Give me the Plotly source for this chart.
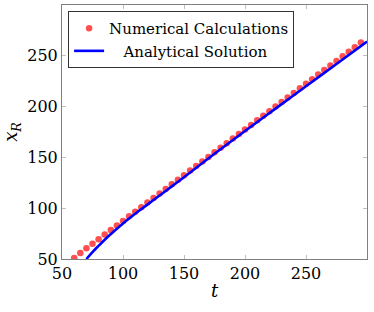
import plotly.graph_objects as go

t_num = list(range(60, 300, 5))
x_num = [51, 56, 60.5, 65, 69.5, 74, 78.5, 83, 87.5, 92, 96.5, 101, 105.5, 110,
         114.5, 119, 123.5, 128, 132.5, 137, 141.5, 146, 150.5, 155, 159.5, 164,
         168.5, 173, 177.5, 182, 186.5, 191, 195.5, 200, 204.5, 209, 213.5, 218,
         222.5, 227, 231.5, 236, 240.5, 245, 249.5, 254, 258.5, 263]

t_ana = [70, 75, 80, 85, 90, 100, 110, 120, 130, 140, 150, 175, 200, 225, 250, 275, 300]
x_ana = [50, 56.8, 63, 69, 74.5, 85, 94.5, 103.5, 112.5, 121.5, 130.5, 153.5, 176, 198, 220, 242, 264]

font = "DejaVu Serif"

fig = go.Figure()
fig.add_trace(go.Scatter(x=t_num, y=x_num, mode="markers", name="Numerical Calculations",
                         marker=dict(color="rgba(255,60,60,0.9)", size=6.5)))
fig.add_trace(go.Scatter(x=t_ana, y=x_ana, mode="lines",
                         name="\u00a0\u00a0\u00a0Analytical Solution",
                         line=dict(color="#0000ff", width=2.6, shape="spline")))

axis_common = dict(showgrid=False, zeroline=False, ticks="inside", ticklen=4,
                   tickcolor="#c0c0c0", showline=True, linecolor="#808080", linewidth=1,
                   mirror="ticks", automargin=False,
                   tickfont=dict(family=font, size=16, color="black"))

fig.update_layout(
    width=374, height=312,
    margin=dict(l=62, r=7, t=5, b=53),
    plot_bgcolor="white", paper_bgcolor="white",
    font=dict(family=font, size=16, color="black"),
    xaxis=dict(range=[50, 300], tickvals=[50, 100, 150, 200, 250],
               title=dict(text="<i>t</i>", standoff=2, font=dict(family=font, size=18)), **axis_common),
    yaxis=dict(range=[50, 300], tickvals=[50, 100, 150, 200, 250],
               title=dict(text="<i>x</i><sub><i>R</i></sub>", standoff=8, font=dict(family=font, size=18)),
               **axis_common),
    legend=dict(x=0.02, y=0.976, xanchor="left", yanchor="top",
                bordercolor="#333333", borderwidth=1, bgcolor="white",
                font=dict(family=font, size=15), itemwidth=30),
    showlegend=True,
)

fig.write_html("out.html", config={"displayModeBar": False},
               post_script="document.body.style.margin='0px';")
